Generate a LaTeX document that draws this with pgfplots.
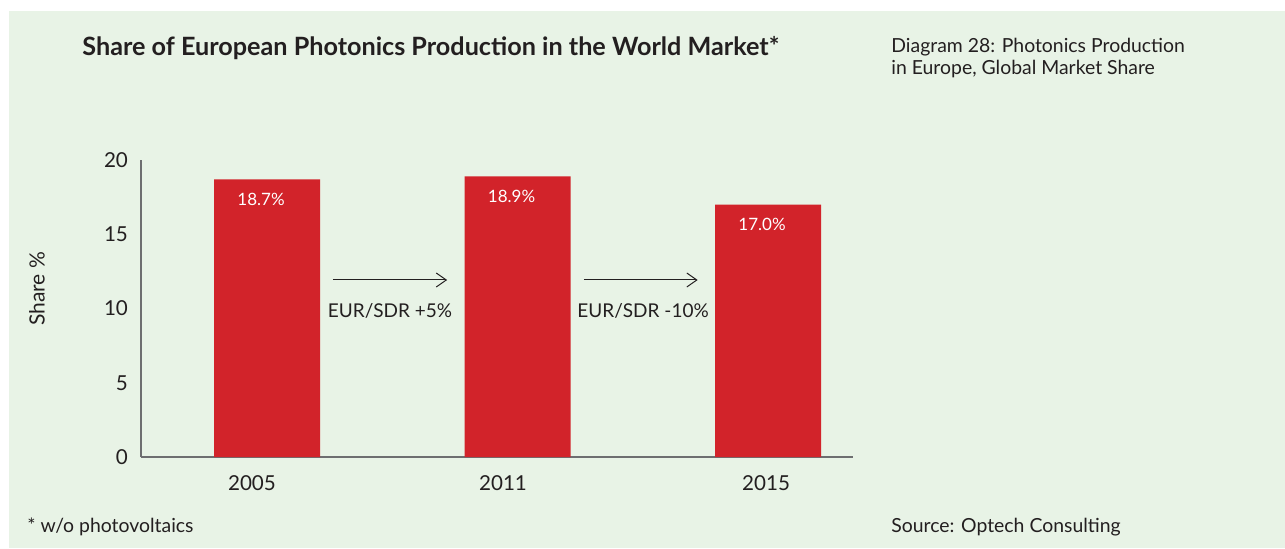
\documentclass[border=0pt]{standalone}
\usepackage{pgfplots}
\pgfplotsset{compat=1.18}
\usetikzlibrary{arrows.meta}
\usepackage{fontspec}
\setmainfont{Lato}
\definecolor{bg}{HTML}{E8F3E6}
\definecolor{barred}{HTML}{D2232A}
\definecolor{txt}{HTML}{231F20}
\definecolor{axisgray}{HTML}{6D6E70}
\begin{document}
\begin{tikzpicture}[x=0.5pt,y=0.5pt]
\fill[white] (0,0) rectangle (1285,548);
\fill[bg] (9,0) rectangle (1285,537);
\node[anchor=west,inner sep=0,text=txt,font=\bfseries\fontsize{12.6}{15}\selectfont] at (82,500) {Share of European Photonics Production in the World Market*};
\node[anchor=west,inner sep=0,align=left,text=txt,font=\fontsize{9.7}{11}\selectfont] at (891,490) {Diagram 28: Photonics Production\\in Europe, Global Market Share};
\node[anchor=west,inner sep=0,text=txt,font=\fontsize{9.7}{11}\selectfont] at (27,21) {* w/o photovoltaics};
\node[anchor=west,inner sep=0,text=txt,font=\fontsize{9.7}{11}\selectfont] at (891,21) {Source: Optech Consulting};
\node[rotate=90,inner sep=0,text=txt,font=\fontsize{10.5}{12}\selectfont] at (37,259) {Share \%};
\begin{axis}[
  at={(70.5pt,45.5pt)}, anchor=south west,
  scale only axis, width=356pt, height=148.5pt,
  xmin=-0.503, xmax=2.339, ymin=0, ymax=20,
  axis x line*=bottom, axis y line*=left,
  axis line style={axisgray, line width=0.6pt},
  major tick length=0pt,
  ytick={0,5,10,15,20},
  xtick={-0.06,0.942,1.992},
  xticklabels={2005,2011,2015},
  /pgf/number format/assume math mode=true,
  ticklabel style={text=txt, font=\fontsize{10.3}{12}\selectfont},
  yticklabel style={xshift=-3pt},
  xticklabel style={yshift=-6pt},
  clip=false,
]
\addplot[ybar, bar width=53pt, fill=barred, draw=none,
  nodes near coords={\pgfmathprintnumber[fixed,fixed zerofill,precision=1]{\pgfplotspointmeta}\%},
  every node near coord/.append style={anchor=center, yshift=-10pt, xshift=-3pt, text=white, font=\fontsize{8.5}{10}\selectfont, /pgf/number format/assume math mode=true}]
  coordinates {(0,18.7) (1,18.9) (2,17.0)};
\draw[txt, line width=0.5pt, -{Straight Barb[length=5pt,width=7pt]}] (axis cs:0.263,11.92) -- (axis cs:0.719,11.92);
\draw[txt, line width=0.5pt, -{Straight Barb[length=5pt,width=7pt]}] (axis cs:1.265,11.92) -- (axis cs:1.719,11.92);
\node[text=txt,font=\fontsize{9.5}{11}\selectfont] at (axis cs:0.491,9.83) {EUR/SDR +5\%};
\node[text=txt,font=\fontsize{9.5}{11}\selectfont] at (axis cs:1.501,9.83) {EUR/SDR -10\%};
\end{axis}
\end{tikzpicture}
\end{document}
